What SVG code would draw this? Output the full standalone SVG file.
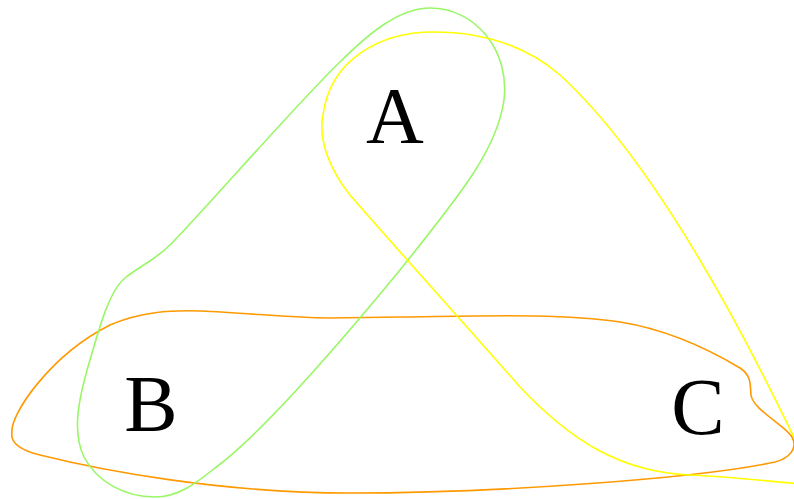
<svg xmlns="http://www.w3.org/2000/svg" width="794" height="499" viewBox="0 0 794 499">
<style>
.set{fill:none;stroke-width:1.6}
.lbl{font-family:"Liberation Serif","Times New Roman",serif;font-size:80px;fill:#000;text-anchor:middle}
</style>
<rect width="794" height="499" fill="#fff"/>
<g id="connectors">
<path id="setB" class="set" stroke="#ff9900" d="M 12,432 C 10,415 50,355 110,325 C 140,312 170,310 200,311 C 250,313 290,318 330,318 L 400,317 C 480,316 560,313 620,322 C 670,330 710,350 740,368 C 752,376 750,385 751,395 C 753,410 785,425 792,437 C 798,448 790,458 775,462 C 700,478 500,493 350,493 C 220,493 100,470 40,455 C 20,450 10,442 12,432 Z"/>
<path id="setA" class="set" stroke="#99f766" d="M 430,8 C 475,8 510,50 504,100 C 497,150 460,195 400,270 C 330,355 260,435 215,468 C 195,484 178,497 155,497 C 125,497 97,482 84,457 C 72,432 78,400 90,360 C 100,325 110,290 125,278 C 140,266 155,260 170,245 C 200,215 300,100 340,62 C 370,32 400,8 430,8 Z"/>
<path id="setC" class="set" stroke="#ffff00" d="M 800,484 C 760,480 720,476 690,475 C 620,472 570,440 520,387 C 470,330 380,230 350,195 C 330,170 318,140 323,115 C 330,60 380,32 433,32 C 480,32 525,45 560,75 C 620,130 700,240 800,450"/>
</g>
<g id="nodeA"><text class="lbl" x="395" y="143">A</text></g>
<g id="nodeB"><text class="lbl" x="151" y="431">B</text></g>
<g id="nodeC"><text class="lbl" x="698" y="434">C</text></g>
</svg>
